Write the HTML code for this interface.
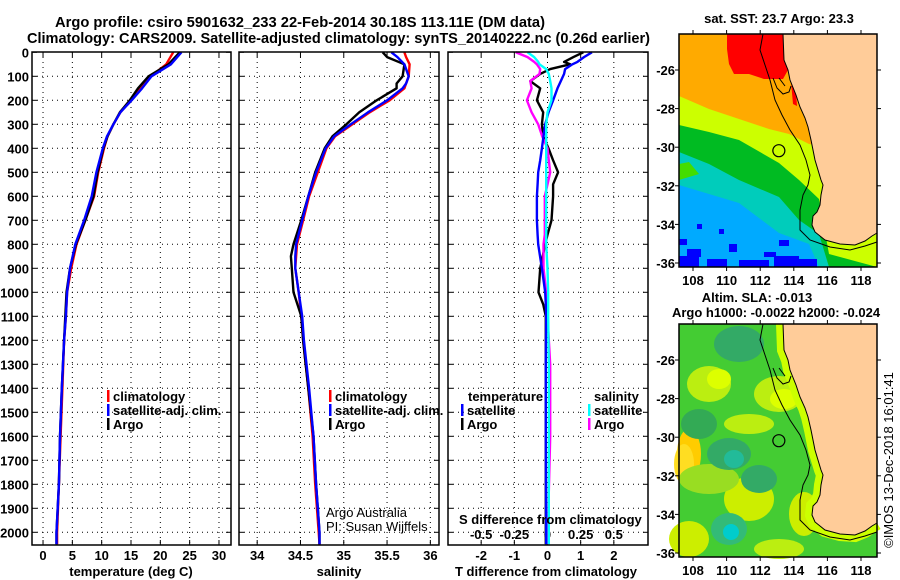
<!DOCTYPE html>
<html><head><meta charset="utf-8"><style>
html,body{margin:0;padding:0;background:#fff;}
svg{display:block;font-family:"Liberation Sans",sans-serif;}
.b{font-weight:bold;font-size:13px;}
</style></head><body>
<svg id="c" width="900" height="580" viewBox="0 0 900 580">
<text x="55" y="27" class="b" style="font-size:15px" textLength="490" lengthAdjust="spacingAndGlyphs">Argo profile: csiro 5901632_233 22-Feb-2014 30.18S 113.11E (DM data)</text>
<text x="27" y="43" class="b" style="font-size:15px" textLength="623" lengthAdjust="spacingAndGlyphs">Climatology: CARS2009. Satellite-adjusted climatology: synTS_20140222.nc (0.26d earlier)</text>
<g id="plots"></g>
<g id="maps"></g>
<text transform="translate(893,460) rotate(-90)" text-anchor="middle" style="font-size:13px">©IMOS 13-Dec-2018 16:01:41</text>
</svg>
<script>
// ---- data ----
const depthsT = [0,50,100,150,200,250,300,350,400,500,600,700,800,900,1000,1100,1200,1400,1600,1800,2000,2050];
const tempArgo = [23.3,21.4,18.0,16.2,14.8,13.1,12.0,11.0,10.3,9.3,8.6,7.2,5.6,4.6,4.0,3.8,3.6,3.2,2.9,2.7,2.3,2.3];
const tempClim = [22.2,21.0,18.4,16.6,14.9,13.2,12.0,11.0,10.4,9.4,8.7,7.2,5.7,4.8,4.1,3.9,3.6,3.3,3.0,2.7,2.4,2.4];
const tempSat  = [23.6,21.8,18.5,16.9,15.1,13.2,12.0,10.9,10.2,9.1,8.3,7.0,5.5,4.6,4.1,3.9,3.6,3.2,2.9,2.7,2.3,2.3];
const depthsS = [0,20,50,100,130,150,200,250,300,350,400,500,600,700,800,850,900,1000,1100,1200,1300,1400,1600,1800,2000,2050];
const salArgo = [35.45,35.50,35.70,35.68,35.61,35.61,35.38,35.18,35.03,34.87,34.78,34.67,34.59,34.51,34.42,34.39,34.40,34.42,34.51,34.53,34.56,34.59,34.65,34.68,34.72,34.72];
const salClim = [35.70,35.72,35.76,35.75,35.72,35.70,35.53,35.30,35.10,34.90,34.80,34.70,34.60,34.53,34.46,34.45,34.44,34.48,34.51,34.53,34.56,34.59,34.64,34.67,34.71,34.72];
const salSat  = [35.55,35.62,35.70,35.75,35.72,35.68,35.50,35.28,35.08,34.89,34.79,34.68,34.59,34.52,34.45,34.44,34.44,34.48,34.52,34.54,34.57,34.60,34.65,34.68,34.72,34.72];
const depthsD = [0,20,40,50,70,90,120,150,200,250,300,350,400,450,500,550,600,700,760,800,900,1000,1050,1100,1300,1600,2050];
const dTsat  = [1.34,1.10,0.90,0.75,0.53,0.50,0.40,0.30,0.17,0.03,-0.07,-0.12,-0.17,-0.22,-0.28,-0.30,-0.32,-0.32,-0.30,-0.28,-0.17,-0.07,-0.05,-0.04,-0.05,-0.05,-0.04];
const dTargo = [1.08,0.78,0.50,0.68,0.08,-0.22,-0.52,-0.22,-0.32,-0.13,-0.17,-0.13,0.03,0.17,0.32,0.17,0.17,0.12,0.00,-0.07,-0.22,-0.27,-0.13,-0.05,-0.05,-0.05,-0.05];
const dSargo = [-0.24,-0.15,-0.10,-0.08,-0.055,-0.06,-0.13,-0.12,-0.155,-0.12,-0.07,-0.04,0.00,0.01,0.02,0.00,-0.02,-0.02,-0.02,-0.03,-0.03,-0.01,0.0,0.0,0.02,0.02,0.0];
const dSsat  = [-0.15,-0.10,-0.07,-0.06,-0.01,0.01,0.02,0.03,0.03,0.00,-0.01,-0.01,-0.01,-0.01,-0.01,-0.01,-0.01,-0.01,-0.01,-0.01,0.0,0.005,0.005,0.005,0.01,0.01,0.01];
const depthTicks = [0,100,200,300,400,500,600,700,800,900,1000,1100,1200,1300,1400,1500,1600,1700,1800,1900,2000];
const tTicks = [0,5,10,15,20,25,30];
const sTicks = [34,34.5,35,35.5,36];
const sTickLabels = ["34","34.5","35","35.5","36"];
const dtTicks = [-2,-1,0,1,2];
const dsTicks = [-0.5,-0.25,0,0.25,0.5];
const dsTickLabels = ["-0.5","-0.25","0","0.25","0.5"];
const lonTicks = [108,110,112,114,116,118];
const latTicks = [-26,-28,-30,-32,-34,-36];

const NS="http://www.w3.org/2000/svg";
const plots=document.getElementById('plots');
function el(tag,attrs,parent,txt){const e=document.createElementNS(NS,tag);for(const k in attrs)e.setAttribute(k,attrs[k]);if(txt!==undefined)e.textContent=txt;(parent||plots).appendChild(e);return e;}
const TOP=52, BOT=545;
const yD = d => 52.3 + d*0.24;
const panels=[
 {x0:32,x1:231,v0:-1.88,v1:32.05,name:'temperature'},
 {x0:239,x1:439,v0:33.79,v1:36.1,name:'salinity'},
 {x0:448,x1:648,v0:-3.0,v1:3.03,name:'difference'}];
function xs(p,v){return p.x0+(v-p.v0)/(p.v1-p.v0)*(p.x1-p.x0);}
panels.forEach((p,i)=>{
  const g=el('g',{},plots);
  
  
  depthTicks.forEach(d=>{
    if(d>0){const l=el('line',{x1:p.x0,x2:p.x1,y1:yD(d),y2:yD(d),stroke:'#000','stroke-width':1,'stroke-dasharray':'1,4'},g);
    }
  });
  p.g=g;
});
// vertical grid + tick labels
function vgrid(p,vals,labels,yLab){
  vals.forEach((v,i)=>{
    const x=xs(p,v);
    const l=el('line',{x1:x,x2:x,y1:TOP,y2:BOT,stroke:'#000','stroke-width':1,'stroke-dasharray':'1,4'},p.g);
    
    el('line',{x1:x,x2:x,y1:BOT,y2:BOT-5,stroke:'#000'},p.g);
    el('line',{x1:x,x2:x,y1:TOP,y2:TOP+5,stroke:'#000'},p.g);
    if(yLab){const t=el('text',{x:x,y:yLab,'text-anchor':'middle',class:'b'},p.g,labels[i]);
    }
  });
}
vgrid(panels[0],tTicks,tTicks.map(String),560);
vgrid(panels[1],sTicks,sTickLabels,560);
vgrid(panels[2],dtTicks,dtTicks.map(String),560);
// S diff tick labels inside panel 3 (scale: 0.5 S == 2 T)
dsTicks.forEach((v,i)=>{const t=el('text',{x:xs(panels[2],v*4),y:539,'text-anchor':'middle',class:'b'},panels[2].g,dsTickLabels[i]);
 });
// depth labels
depthTicks.forEach(d=>{const t=el('text',{x:29,y:yD(d)+5,'text-anchor':'end',class:'b'},plots,String(d));
 
 [0,1,2].forEach(i=>{const p=panels[i];el('line',{x1:p.x0,x2:p.x0+5,y1:yD(d),y2:yD(d),stroke:'#000'});el('line',{x1:p.x1,x2:p.x1-5,y1:yD(d),y2:yD(d),stroke:'#000'});});
});
function line(p,vals,deps,color,name,scale){
  const pts=vals.map((v,i)=>xs(p,v*(scale||1)).toFixed(1)+','+yD(deps[i]).toFixed(1)).join(' ');
  const l=el('polyline',{points:pts,fill:'none',stroke:color,'stroke-width':2.4,'stroke-linejoin':'round'},p.g);
  
  
}
line(panels[0],tempClim,depthsT,'#ff0000','temp-climatology-line');
line(panels[0],tempArgo,depthsT,'#000000','temp-argo-line');
line(panels[0],tempSat,depthsT,'#0000ff','temp-satellite-line');
line(panels[1],salClim,depthsS,'#ff0000','sal-climatology-line');
line(panels[1],salArgo,depthsS,'#000000','sal-argo-line');
line(panels[1],salSat,depthsS,'#0000ff','sal-satellite-line');
line(panels[2],dTargo,depthsD,'#000000','tdiff-argo-line');
line(panels[2],dSargo,depthsD,'#ff00ff','sdiff-argo-line',4);
line(panels[2],dTsat,depthsD,'#0000ff','tdiff-satellite-line');
line(panels[2],dSsat,depthsD,'#00ffff','sdiff-satellite-line',4);
panels.forEach(p=>{const r=el('rect',{x:p.x0,y:TOP,width:p.x1-p.x0,height:BOT-TOP,fill:'none',stroke:'#000','stroke-width':1.5},p.g);
 });
// legends
function leg(x,y,color,text,name,g){
  if(color){el('rect',{x:x-6,y:y-7,width:2.5,height:12,fill:color},g);}
  const t=el('text',{x:x,y:y+4,class:'b'},g,text);
  
}
leg(113,397,'#ff0000','climatology','legend-climatology',panels[0].g);
leg(113,411,'#0000ff','satellite-adj. clim.','legend-satellite-adj',panels[0].g);
leg(113,425,'#000000','Argo','legend-argo',panels[0].g);
leg(335,397,'#ff0000','climatology','legend-climatology',panels[1].g);
leg(335,411,'#0000ff','satellite-adj. clim.','legend-satellite-adj',panels[1].g);
leg(335,425,'#000000','Argo','legend-argo',panels[1].g);
leg(468,397,null,'temperature','legend-temperature-heading',panels[2].g);
leg(467,411,'#0000ff','satellite','legend-t-satellite',panels[2].g);
leg(467,425,'#000000','Argo','legend-t-argo',panels[2].g);
leg(594,397,null,'salinity','legend-salinity-heading',panels[2].g);
leg(594,411,'#00ffff','satellite','legend-s-satellite',panels[2].g);
leg(594,425,'#ff00ff','Argo','legend-s-argo',panels[2].g);
let t;
t=el('text',{x:326,y:517,style:'font-size:13px'},panels[1].g,'Argo Australia');
t=el('text',{x:326,y:531,style:'font-size:13px'},panels[1].g,'PI: Susan Wijffels');
t=el('text',{x:459,y:524,class:'b'},panels[2].g,'S difference from climatology');
t=el('text',{x:131,y:576,'text-anchor':'middle',class:'b'},plots,'temperature (deg C)');
t=el('text',{x:339,y:576,'text-anchor':'middle',class:'b'},plots,'salinity');
t=el('text',{x:546,y:576,'text-anchor':'middle',class:'b'},plots,'T difference from climatology');

// ---- maps ----
const maps=document.getElementById('maps');
const MW=198, MH=233;
const mx = lon => 14 + (lon-108)*16.8;
const my = lat => 36 + (-26-lat)*19.3;
const land="104,0 105,26 109,36 111,46 113,51 117,61 121,73 126,84 129,93 132,106 134,116 136,126 139,136 142,146 144,151 142,161 141,171 138,178 134,182 133,191 136,198 146,206 161,210 176,211 186,207 193,202 198,199 198,0";
const iso="84,0 81,16 86,31 91,46 96,66 103,81 111,96 121,111 127,126 131,141 129,151 124,161 121,176 121,196 131,206 151,213 171,216 186,212 198,208";
function band(g,pts,color){el('polygon',{points:pts,fill:color},g);}
function mapFrame(g,oy,name){
  el('polygon',{points:land,fill:'#ffcc99'},g);
  el('polyline',{points:land.split(' ').slice(0,-1).join(' '),fill:'none',stroke:'#000','stroke-width':1},g);
  el('polyline',{points:iso,fill:'none',stroke:'#000','stroke-width':1},g);
  el('path',{d:'M94,44 L98,54 L104,60 L110,58 L112,52 M100,44 L106,52',fill:'none',stroke:'#000','stroke-width':1},g);
  const c=el('circle',{cx:mx(113.11),cy:my(-30.18),r:6,fill:'none',stroke:'#000','stroke-width':1.2},g);
  
  el('rect',{x:0,y:0,width:MW,height:MH,fill:'none',stroke:'#000','stroke-width':1.5},g);
  lonTicks.forEach(l=>{const x=mx(l);el('line',{x1:x,x2:x,y1:MH,y2:MH+4,stroke:'#000'},g);el('line',{x1:x,x2:x,y1:0,y2:-4,stroke:'#000'},g);
    const tt=el('text',{x:x,y:MH+18,'text-anchor':'middle',class:'b'},g,String(l));});
  latTicks.forEach(l=>{const y=my(l);el('line',{x1:0,x2:-4,y1:y,y2:y,stroke:'#000'},g);el('line',{x1:MW,x2:MW+4,y1:y,y2:y,stroke:'#000'},g);
    const tt=el('text',{x:-4,y:y+5,'text-anchor':'end',class:'b'},g,String(l));});
}
// SST map
const g1=el('g',{transform:'translate(679,34)'},maps);

el('rect',{x:0,y:0,width:MW,height:MH,fill:'#00aaff'},g1);
band(g1,"0,0 198,0 198,233 140,233 130,210 100,199 60,169 30,160 0,151",'#00ccbb');
band(g1,"0,0 198,0 198,233 150,233 140,200 120,186 100,163 60,146 30,130 0,118",'#00bb22');
band(g1,"0,0 198,0 198,233 150,220 140,165 120,146 100,129 60,106 30,98 0,91",'#ccff00');
band(g1,"0,0 198,0 198,120 130,110 110,100 90,95 60,85 30,75 0,62",'#ffaa00');
band(g1,"48,0 104,0 109,36 104,45 85,45 70,40 55,40 50,30 48,15",'#ff0000');
band(g1,"112,48 117,58 118,72 114,70",'#ff0000');
band(g1,"0,130 10,128 20,140 0,146",'#44dd00');
[[0,205,8,6],[8,215,14,8],[0,222,20,11],[28,225,20,8],[60,226,30,7],[95,222,25,11],[120,225,18,8],[50,210,8,8],[18,190,5,5],[40,195,5,5],[100,206,10,6],[85,218,12,5]].forEach(r=>el('rect',{x:r[0],y:r[1],width:r[2],height:r[3],fill:'#0000ff'},g1));
mapFrame(g1,0);
t=el('text',{x:779,y:23,'text-anchor':'middle',class:'b'},maps,'sat. SST: 23.7 Argo: 23.3');
// SLA map
const g2=el('g',{transform:'translate(679,324)'},maps);

el('rect',{x:0,y:0,width:MW,height:MH,fill:'#44cc33'},g2);
const blobs=[[30,60,22,18,'#bbee11'],[40,55,12,10,'#ddff00'],[100,70,25,18,'#bbee11'],[105,75,14,10,'#ddff00'],[70,100,25,10,'#bbee11'],[10,130,12,25,'#ffcc00'],[5,140,10,20,'#ffdd22'],[70,175,25,22,'#ccee00'],[125,190,15,22,'#ccee00'],[30,155,30,15,'#99dd22'],[50,130,22,16,'#33aa66'],[55,135,10,9,'#22bb99'],[80,155,18,14,'#33aa66'],[50,205,18,16,'#33bb77'],[52,208,8,8,'#00cccc'],[20,100,18,15,'#33aa55'],[60,20,25,18,'#33aa66'],[10,215,20,18,'#ccee00'],[100,225,25,10,'#bbee11']];
blobs.forEach(b=>el('ellipse',{cx:b[0],cy:b[1],rx:b[2],ry:b[3],fill:b[4]},g2));
el('polyline',{points:land.split(' ').slice(0,-1).join(' '),fill:'none',stroke:'#ccff00','stroke-width':14},g2);
mapFrame(g2,0);
t=el('text',{x:757,y:302,'text-anchor':'middle',class:'b'},maps,'Altim. SLA: -0.013');
t=el('text',{x:776,y:317,'text-anchor':'middle',class:'b'},maps,'Argo h1000: -0.0022 h2000: -0.024');
</script>
</body></html>
